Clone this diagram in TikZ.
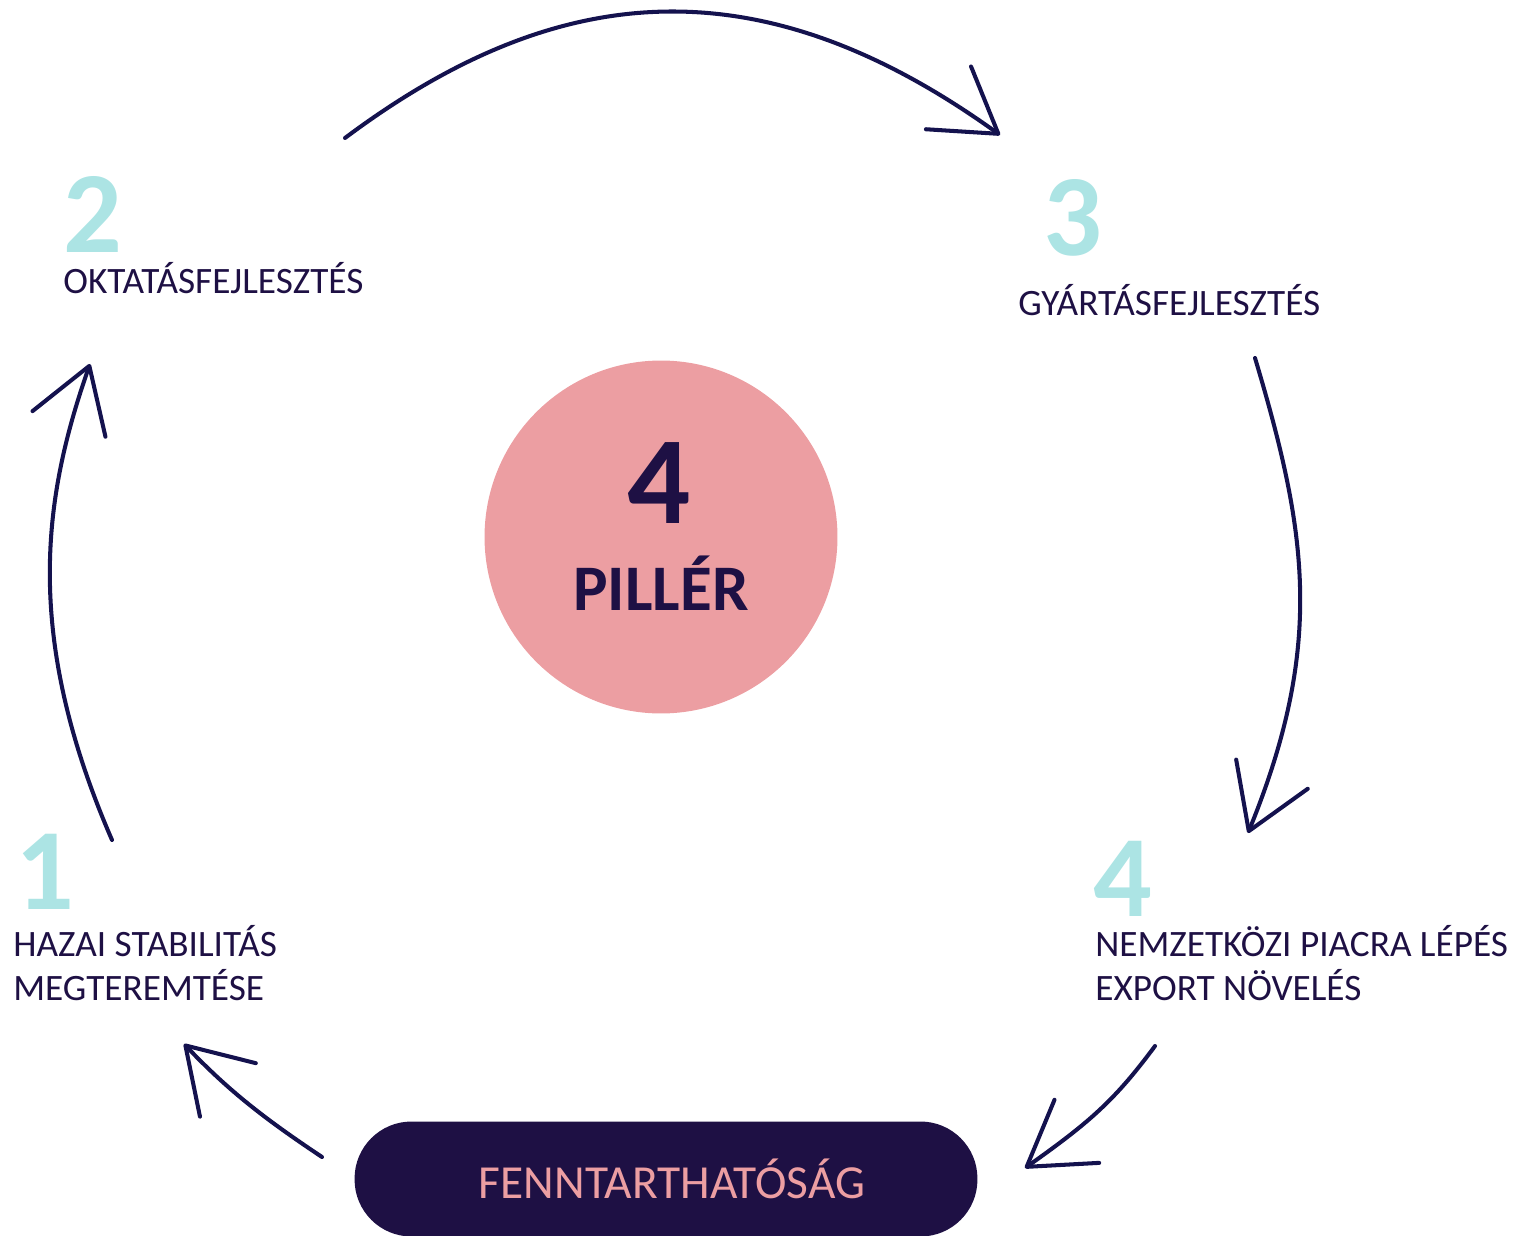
\documentclass[tikz,border=0pt]{standalone}
\usepackage{fontspec}
\setmainfont{Carlito}
\definecolor{pillarpink}{RGB}{236, 158, 162}
\definecolor{stepcyan}{RGB}{172, 228, 228}
\definecolor{deepnavy}{RGB}{30, 16, 68}
\definecolor{arrownavy}{RGB}{20, 18, 78}
\usepackage{tikz}
\usetikzlibrary{arrows.meta, positioning}

\begin{document}
\begin{tikzpicture}[x=0.02cm, y=-0.02cm,
    cyclearrow/.style={draw=arrownavy, line width=2.3pt, line cap=round,
      -{Straight Barb[length=35pt, width=44pt, round]}},
    stepnum/.style={anchor=base west, inner sep=0pt, text=stepcyan,
      font=\fontsize{66}{66}\selectfont\bfseries},
    steplabel/.style={anchor=base west, inner sep=0pt, text=deepnavy, align=left,
      font=\fontsize{21.2}{24.5}\selectfont}]
  \useasboundingbox (0,0) rectangle (1514,1236);

  % centre circle
  \node[circle, fill=pillarpink, minimum size=7.06cm, inner sep=0pt] (pillar) at (661,537) {};
  \node[anchor=base, inner sep=0pt, text=deepnavy, font=\fontsize{71}{71}\selectfont\bfseries] (bignum) at (659,523) {4};
  \node[anchor=base, inner sep=0pt, text=deepnavy, font=\fontsize{37}{37}\selectfont\bfseries] (pillarword) at (661,610) {PILLÉR};

  % the four steps
  \node[stepnum] (num1) at (15,909) {1};
  \node[steplabel] (lab1) at (13,1000) {HAZAI STABILITÁS\\MEGTEREMTÉSE};
  \node[stepnum] (num2) at (63,253) {2};
  \node[steplabel] (lab2) at (63,294) {OKTATÁSFEJLESZTÉS};
  \node[stepnum] (num3) at (1043,256) {3};
  \node[steplabel] (lab3) at (1018,316) {GYÁRTÁSFEJLESZTÉS};
  \node[stepnum] (num4) at (1093,916) {4};
  \node[steplabel] (lab4) at (1095,1000) {NEMZETKÖZI PIACRA LÉPÉS\\EXPORT NÖVELÉS};

  % sustainability bar
  \node[fill=deepnavy, rounded corners=1.14cm, minimum width=12.46cm, minimum height=2.3cm,
    inner sep=0pt, text=pillarpink, font=\fontsize{27}{27}\selectfont] (sust) at (666,1179) {\hspace*{7pt}FENNTARTHATÓSÁG};

  % cycle arrows
  \coordinate (a2s) at (345,138);  \coordinate (a2e) at (1000,135);
  \coordinate (a3s) at (1255,358); \coordinate (a3e) at (1248,833);
  \coordinate (a4s) at (1155,1046); \coordinate (a4e) at (1025,1168);
  \coordinate (a5s) at (322,1157); \coordinate (a5e) at (184,1044);
  \coordinate (a1s) at (112,840);  \coordinate (a1e) at (90,364);
  \draw[cyclearrow] (a2s) .. controls (555,-19) and (757,-40) .. (a2e);
  \draw[cyclearrow] (a3s) .. controls (1307,532) and (1325,644) .. (a3e);
  \draw[cyclearrow] (a4s) .. controls (1115,1100) and (1090,1122) .. (a4e);
  \draw[cyclearrow] (a5s) .. controls (262,1117) and (228,1090) .. (a5e);
  \draw[cyclearrow] (a1s) .. controls (23,635) and (43,498) .. (a1e);
\end{tikzpicture}
\end{document}
